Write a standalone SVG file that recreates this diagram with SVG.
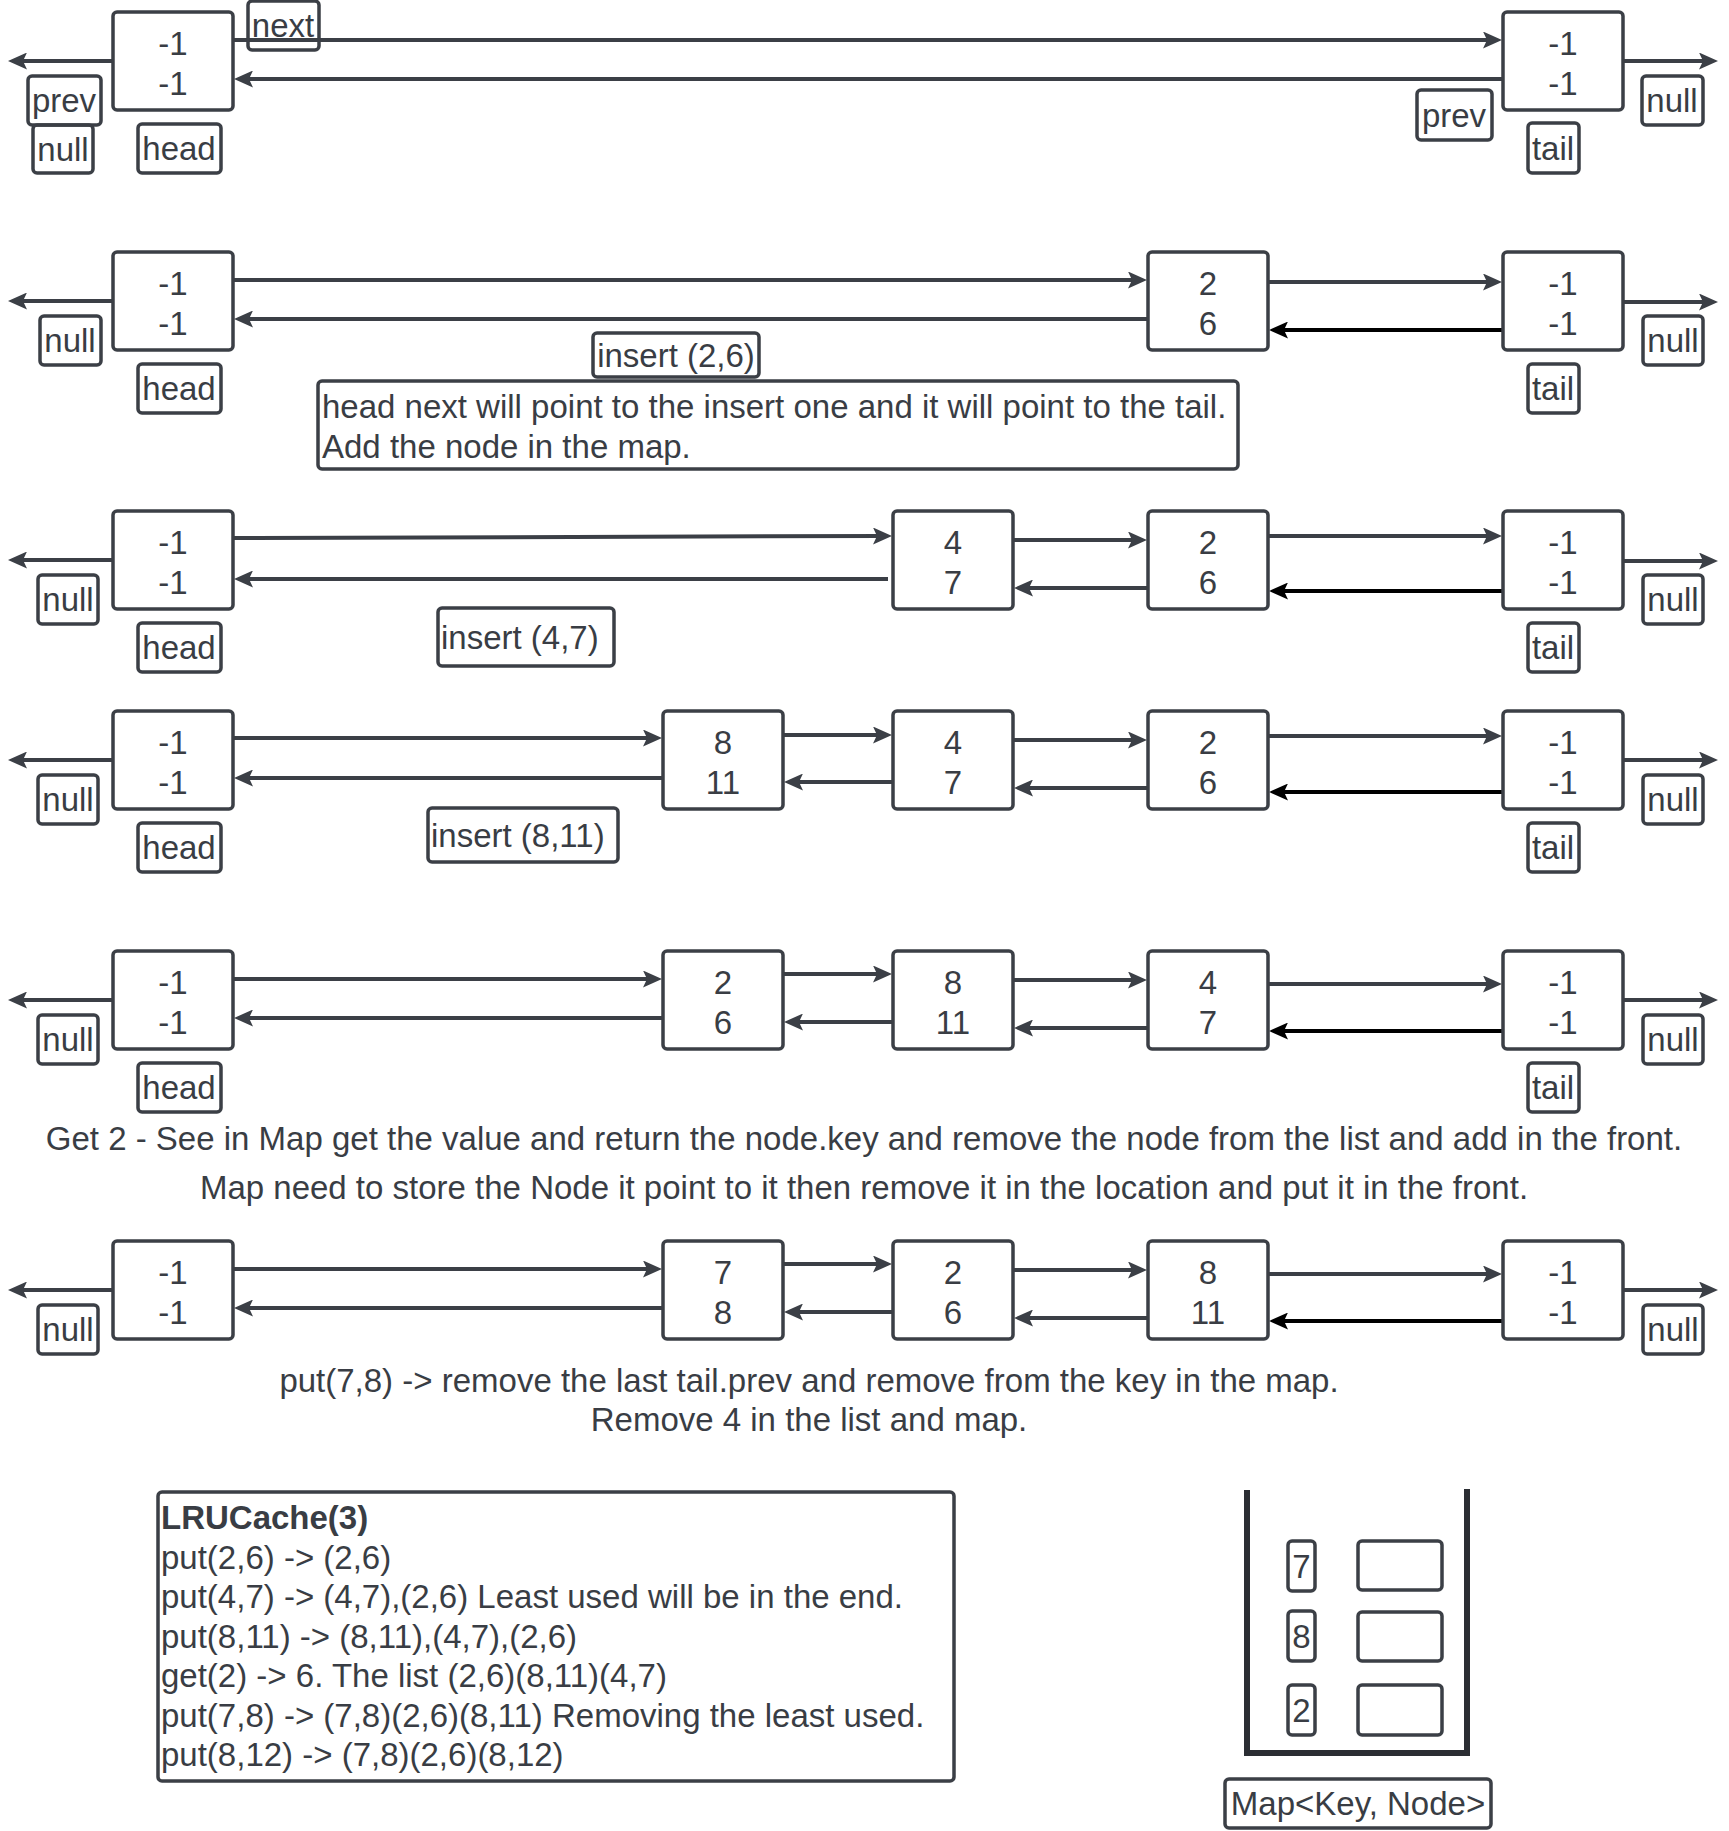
<svg xmlns="http://www.w3.org/2000/svg" width="1729" height="1831" viewBox="0 0 1729 1831">
<style>
.n{fill:#fff;stroke:#3b3f46;stroke-width:3.5}
.lb{fill:none;stroke:#3b3f46;stroke-width:3.5}
.t{font-family:"Liberation Sans",Arial,sans-serif;font-size:33px;fill:#393d44}
.c{text-anchor:middle}
.e{stroke:#3b3f46;stroke-width:4;fill:none;marker-end:url(#ah)}
.eb{stroke:#000;stroke-width:4;fill:none;marker-end:url(#ahb)}
.m{stroke:#2b2e33;stroke-width:6;fill:none}
</style>
<defs>
<marker id="ah" viewBox="0 0 19 17" refX="8" refY="8.5" markerWidth="19" markerHeight="17" markerUnits="userSpaceOnUse" orient="auto"><path d="M0,0 L19,8.5 L0,17 L4,8.5 z" fill="#3b3f46"/></marker>
<marker id="ahb" viewBox="0 0 19 17" refX="8" refY="8.5" markerWidth="19" markerHeight="17" markerUnits="userSpaceOnUse" orient="auto"><path d="M0,0 L19,8.5 L0,17 L4,8.5 z" fill="#000"/></marker>
</defs>
<rect width="1729" height="1831" fill="#fff"/>

<g id="connectors">
<line class="e" x1="113" y1="61" x2="19" y2="61"/>
<line class="e" x1="233" y1="40" x2="1491" y2="40"/>
<line class="e" x1="1503" y1="79" x2="245" y2="79"/>
<line class="e" x1="1623" y1="61" x2="1707" y2="61"/>

<line class="e" x1="113" y1="301" x2="19" y2="301"/>
<line class="e" x1="233" y1="280" x2="1136" y2="280"/>
<line class="e" x1="1148" y1="319" x2="245" y2="319"/>
<line class="e" x1="1268" y1="282" x2="1491" y2="282"/>
<line class="eb" x1="1503" y1="330" x2="1280" y2="330"/>
<line class="e" x1="1623" y1="302" x2="1707" y2="302"/>

<line class="e" x1="113" y1="560" x2="19" y2="560"/>
<line class="e" x1="233" y1="538" x2="881" y2="536"/>
<line class="e" x1="888" y1="579" x2="245" y2="579"/>
<line class="e" x1="1013" y1="540" x2="1136" y2="540"/>
<line class="e" x1="1148" y1="588" x2="1025" y2="588"/>
<line class="e" x1="1268" y1="536" x2="1491" y2="536"/>
<line class="eb" x1="1503" y1="591" x2="1280" y2="591"/>
<line class="e" x1="1623" y1="561" x2="1707" y2="561"/>

<line class="e" x1="113" y1="760" x2="19" y2="760"/>
<line class="e" x1="233" y1="738" x2="651" y2="738"/>
<line class="e" x1="663" y1="778" x2="245" y2="778"/>
<line class="e" x1="783" y1="735" x2="881" y2="735"/>
<line class="e" x1="893" y1="782" x2="795" y2="782"/>
<line class="e" x1="1013" y1="740" x2="1136" y2="740"/>
<line class="e" x1="1148" y1="788" x2="1025" y2="788"/>
<line class="e" x1="1268" y1="736" x2="1491" y2="736"/>
<line class="eb" x1="1503" y1="792" x2="1280" y2="792"/>
<line class="e" x1="1623" y1="760" x2="1707" y2="760"/>

<line class="e" x1="113" y1="1000" x2="19" y2="1000"/>
<line class="e" x1="233" y1="979" x2="651" y2="979"/>
<line class="e" x1="663" y1="1018" x2="245" y2="1018"/>
<line class="e" x1="783" y1="974" x2="881" y2="974"/>
<line class="e" x1="893" y1="1022" x2="795" y2="1022"/>
<line class="e" x1="1013" y1="980" x2="1136" y2="980"/>
<line class="e" x1="1148" y1="1028" x2="1025" y2="1028"/>
<line class="e" x1="1268" y1="984" x2="1491" y2="984"/>
<line class="eb" x1="1503" y1="1031" x2="1280" y2="1031"/>
<line class="e" x1="1623" y1="1000" x2="1707" y2="1000"/>

<line class="e" x1="113" y1="1290" x2="19" y2="1290"/>
<line class="e" x1="233" y1="1269" x2="651" y2="1269"/>
<line class="e" x1="663" y1="1308" x2="245" y2="1308"/>
<line class="e" x1="783" y1="1264" x2="881" y2="1264"/>
<line class="e" x1="893" y1="1312" x2="795" y2="1312"/>
<line class="e" x1="1013" y1="1270" x2="1136" y2="1270"/>
<line class="e" x1="1148" y1="1318" x2="1025" y2="1318"/>
<line class="e" x1="1268" y1="1274" x2="1491" y2="1274"/>
<line class="eb" x1="1503" y1="1321" x2="1280" y2="1321"/>
<line class="e" x1="1623" y1="1290" x2="1707" y2="1290"/>
</g>

<!-- Row 1 -->
<g id="r1-head"><rect class="n" x="113" y="12" width="120" height="98" rx="4"/><text class="t c" x="173" y="55">-1</text><text class="t c" x="173" y="95">-1</text></g>
<g id="r1-tail"><rect class="n" x="1503" y="12" width="120" height="98" rx="4"/><text class="t c" x="1563" y="55">-1</text><text class="t c" x="1563" y="95">-1</text></g>
<g id="r1-lbl-next"><rect class="lb" x="248" y="1" width="71" height="49" rx="4"/><text class="t c" x="283" y="37">next</text></g>
<g id="r1-lbl-prev"><rect class="lb" x="28" y="76" width="73" height="49" rx="4"/><text class="t c" x="64" y="112">prev</text></g>
<g id="r1-lbl-null"><rect class="lb" x="33" y="125" width="60" height="48" rx="4"/><text class="t c" x="63" y="161">null</text></g>
<g id="r1-lbl-head"><rect class="lb" x="138" y="124" width="83" height="49" rx="4"/><text class="t c" x="179" y="160">head</text></g>
<g id="r1-lbl-prev2"><rect class="lb" x="1417" y="90" width="75" height="50" rx="4"/><text class="t c" x="1454" y="127">prev</text></g>
<g id="r1-lbl-tail"><rect class="lb" x="1528" y="123" width="51" height="50" rx="4"/><text class="t c" x="1553" y="160">tail</text></g>
<g id="r1-lbl-null2"><rect class="lb" x="1642" y="76" width="61" height="49" rx="4"/><text class="t c" x="1672" y="112">null</text></g>

<!-- Row 2 -->
<g id="r2-head"><rect class="n" x="113" y="252" width="120" height="98" rx="4"/><text class="t c" x="173" y="295">-1</text><text class="t c" x="173" y="335">-1</text></g>
<g id="r2-n26"><rect class="n" x="1148" y="252" width="120" height="98" rx="4"/><text class="t c" x="1208" y="295">2</text><text class="t c" x="1208" y="335">6</text></g>
<g id="r2-tail"><rect class="n" x="1503" y="252" width="120" height="98" rx="4"/><text class="t c" x="1563" y="295">-1</text><text class="t c" x="1563" y="335">-1</text></g>
<g id="r2-lbl-null"><rect class="lb" x="40" y="316" width="61" height="49" rx="4"/><text class="t c" x="70" y="352">null</text></g>
<g id="r2-lbl-head"><rect class="lb" x="138" y="364" width="83" height="49" rx="4"/><text class="t c" x="179" y="400">head</text></g>
<g id="r2-lbl-insert"><rect class="lb" x="593" y="333" width="166" height="44" rx="4"/><text class="t c" x="676" y="367">insert (2,6)</text></g>
<g id="r2-note"><rect class="lb" x="318" y="381" width="920" height="88" rx="4"/><text class="t" x="322" y="418">head next will point to the insert one and it will point to the tail.</text><text class="t" x="322" y="458">Add the node in the map.</text></g>
<g id="r2-lbl-tail"><rect class="lb" x="1528" y="364" width="51" height="49" rx="4"/><text class="t c" x="1553" y="400">tail</text></g>
<g id="r2-lbl-null2"><rect class="lb" x="1643" y="316" width="60" height="49" rx="4"/><text class="t c" x="1673" y="352">null</text></g>

<!-- Row 3 -->
<g id="r3-head"><rect class="n" x="113" y="511" width="120" height="98" rx="4"/><text class="t c" x="173" y="554">-1</text><text class="t c" x="173" y="594">-1</text></g>
<g id="r3-n47"><rect class="n" x="893" y="511" width="120" height="98" rx="4"/><text class="t c" x="953" y="554">4</text><text class="t c" x="953" y="594">7</text></g>
<g id="r3-n26"><rect class="n" x="1148" y="511" width="120" height="98" rx="4"/><text class="t c" x="1208" y="554">2</text><text class="t c" x="1208" y="594">6</text></g>
<g id="r3-tail"><rect class="n" x="1503" y="511" width="120" height="98" rx="4"/><text class="t c" x="1563" y="554">-1</text><text class="t c" x="1563" y="594">-1</text></g>
<g id="r3-lbl-null"><rect class="lb" x="38" y="575" width="60" height="49" rx="4"/><text class="t c" x="68" y="611">null</text></g>
<g id="r3-lbl-head"><rect class="lb" x="138" y="623" width="83" height="49" rx="4"/><text class="t c" x="179" y="659">head</text></g>
<g id="r3-lbl-insert"><rect class="lb" x="438" y="608" width="176" height="58" rx="4"/><text class="t" x="441" y="649">insert (4,7)</text></g>
<g id="r3-lbl-tail"><rect class="lb" x="1528" y="623" width="51" height="49" rx="4"/><text class="t c" x="1553" y="659">tail</text></g>
<g id="r3-lbl-null2"><rect class="lb" x="1643" y="575" width="60" height="49" rx="4"/><text class="t c" x="1673" y="611">null</text></g>

<!-- Row 4 -->
<g id="r4-head"><rect class="n" x="113" y="711" width="120" height="98" rx="4"/><text class="t c" x="173" y="754">-1</text><text class="t c" x="173" y="794">-1</text></g>
<g id="r4-n811"><rect class="n" x="663" y="711" width="120" height="98" rx="4"/><text class="t c" x="723" y="754">8</text><text class="t c" x="723" y="794">11</text></g>
<g id="r4-n47"><rect class="n" x="893" y="711" width="120" height="98" rx="4"/><text class="t c" x="953" y="754">4</text><text class="t c" x="953" y="794">7</text></g>
<g id="r4-n26"><rect class="n" x="1148" y="711" width="120" height="98" rx="4"/><text class="t c" x="1208" y="754">2</text><text class="t c" x="1208" y="794">6</text></g>
<g id="r4-tail"><rect class="n" x="1503" y="711" width="120" height="98" rx="4"/><text class="t c" x="1563" y="754">-1</text><text class="t c" x="1563" y="794">-1</text></g>
<g id="r4-lbl-null"><rect class="lb" x="38" y="775" width="60" height="49" rx="4"/><text class="t c" x="68" y="811">null</text></g>
<g id="r4-lbl-head"><rect class="lb" x="138" y="823" width="83" height="49" rx="4"/><text class="t c" x="179" y="859">head</text></g>
<g id="r4-lbl-insert"><rect class="lb" x="428" y="808" width="190" height="54" rx="4"/><text class="t" x="431" y="847">insert (8,11)</text></g>
<g id="r4-lbl-tail"><rect class="lb" x="1528" y="823" width="51" height="49" rx="4"/><text class="t c" x="1553" y="859">tail</text></g>
<g id="r4-lbl-null2"><rect class="lb" x="1643" y="775" width="60" height="49" rx="4"/><text class="t c" x="1673" y="811">null</text></g>

<!-- Row 5 -->
<g id="r5-head"><rect class="n" x="113" y="951" width="120" height="98" rx="4"/><text class="t c" x="173" y="994">-1</text><text class="t c" x="173" y="1034">-1</text></g>
<g id="r5-n26"><rect class="n" x="663" y="951" width="120" height="98" rx="4"/><text class="t c" x="723" y="994">2</text><text class="t c" x="723" y="1034">6</text></g>
<g id="r5-n811"><rect class="n" x="893" y="951" width="120" height="98" rx="4"/><text class="t c" x="953" y="994">8</text><text class="t c" x="953" y="1034">11</text></g>
<g id="r5-n47"><rect class="n" x="1148" y="951" width="120" height="98" rx="4"/><text class="t c" x="1208" y="994">4</text><text class="t c" x="1208" y="1034">7</text></g>
<g id="r5-tail"><rect class="n" x="1503" y="951" width="120" height="98" rx="4"/><text class="t c" x="1563" y="994">-1</text><text class="t c" x="1563" y="1034">-1</text></g>
<g id="r5-lbl-null"><rect class="lb" x="38" y="1015" width="60" height="49" rx="4"/><text class="t c" x="68" y="1051">null</text></g>
<g id="r5-lbl-head"><rect class="lb" x="138" y="1063" width="83" height="49" rx="4"/><text class="t c" x="179" y="1099">head</text></g>
<g id="r5-lbl-tail"><rect class="lb" x="1528" y="1063" width="51" height="49" rx="4"/><text class="t c" x="1553" y="1099">tail</text></g>
<g id="r5-lbl-null2"><rect class="lb" x="1643" y="1015" width="60" height="49" rx="4"/><text class="t c" x="1673" y="1051">null</text></g>
<g id="r5-note"><text class="t c" x="864" y="1150">Get 2 - See in Map get the value and return the node.key and remove the node from the list and add in the front.</text><text class="t c" x="864" y="1199">Map need to store the Node it point to it then remove it in the location and put it in the front.</text></g>

<!-- Row 6 -->
<g id="r6-head"><rect class="n" x="113" y="1241" width="120" height="98" rx="4"/><text class="t c" x="173" y="1284">-1</text><text class="t c" x="173" y="1324">-1</text></g>
<g id="r6-n78"><rect class="n" x="663" y="1241" width="120" height="98" rx="4"/><text class="t c" x="723" y="1284">7</text><text class="t c" x="723" y="1324">8</text></g>
<g id="r6-n26"><rect class="n" x="893" y="1241" width="120" height="98" rx="4"/><text class="t c" x="953" y="1284">2</text><text class="t c" x="953" y="1324">6</text></g>
<g id="r6-n811"><rect class="n" x="1148" y="1241" width="120" height="98" rx="4"/><text class="t c" x="1208" y="1284">8</text><text class="t c" x="1208" y="1324">11</text></g>
<g id="r6-tail"><rect class="n" x="1503" y="1241" width="120" height="98" rx="4"/><text class="t c" x="1563" y="1284">-1</text><text class="t c" x="1563" y="1324">-1</text></g>
<g id="r6-lbl-null"><rect class="lb" x="38" y="1305" width="60" height="49" rx="4"/><text class="t c" x="68" y="1341">null</text></g>
<g id="r6-lbl-null2"><rect class="lb" x="1643" y="1305" width="60" height="49" rx="4"/><text class="t c" x="1673" y="1341">null</text></g>
<g id="r6-note"><text class="t c" x="809" y="1392">put(7,8) -&gt; remove the last tail.prev and remove from the key in the map.</text><text class="t c" x="809" y="1431">Remove 4 in the list and map.</text></g>

<!-- LRU summary -->
<g id="lru-box"><rect class="lb" x="158" y="1492" width="796" height="289" rx="4"/>
<text class="t" x="161" y="1529" font-weight="bold">LRUCache(3)</text>
<text class="t" x="161" y="1568.5">put(2,6) -&gt; (2,6)</text>
<text class="t" x="161" y="1608">put(4,7) -&gt; (4,7),(2,6) Least used will be in the end.</text>
<text class="t" x="161" y="1647.5">put(8,11) -&gt; (8,11),(4,7),(2,6)</text>
<text class="t" x="161" y="1687">get(2) -&gt; 6. The list (2,6)(8,11)(4,7)</text>
<text class="t" x="161" y="1726.5">put(7,8) -&gt; (7,8)(2,6)(8,11) Removing the least used.</text>
<text class="t" x="161" y="1766">put(8,12) -&gt; (7,8)(2,6)(8,12)</text>
</g>

<!-- Map -->
<g id="map-container"><path class="m" d="M1247,1490 V1753 H1467 V1489"/></g>
<g id="map-k7"><rect class="lb" x="1288" y="1541" width="27" height="50" rx="4"/><text class="t c" x="1301.5" y="1578">7</text></g>
<g id="map-v7"><rect class="lb" x="1358" y="1541" width="84" height="49" rx="4"/></g>
<g id="map-k8"><rect class="lb" x="1288" y="1611" width="27" height="50" rx="4"/><text class="t c" x="1301.5" y="1648">8</text></g>
<g id="map-v8"><rect class="lb" x="1358" y="1612" width="84" height="49" rx="4"/></g>
<g id="map-k2"><rect class="lb" x="1288" y="1685" width="27" height="50" rx="4"/><text class="t c" x="1301.5" y="1722">2</text></g>
<g id="map-v2"><rect class="lb" x="1358" y="1685" width="84" height="50" rx="4"/></g>
<g id="map-label"><rect class="lb" x="1225" y="1779" width="266" height="49" rx="4"/><text class="t c" x="1358" y="1815">Map&lt;Key, Node&gt;</text></g>
</svg>
